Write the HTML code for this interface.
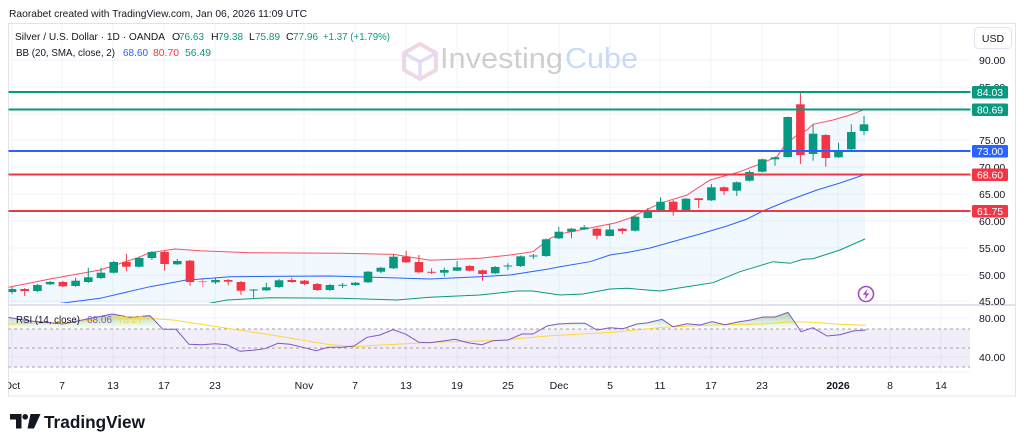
<!DOCTYPE html>
<html><head><meta charset="utf-8"><style>
html,body{margin:0;padding:0;background:#fff;}
svg{display:block;font-family:"Liberation Sans",sans-serif;}
.g{fill:#089981}.r{fill:#f23645}
.gw{stroke:#089981;stroke-width:1}.rw{stroke:#f23645;stroke-width:1}
.ax{font-size:10.5px;fill:#131722}
.tl{font-size:10.5px;fill:#131722;text-anchor:middle}
</style></head><body>
<svg width="1024" height="448" viewBox="0 0 1024 448" xmlns="http://www.w3.org/2000/svg">
<defs>
<clipPath id="mp"><rect x="8.5" y="23.5" width="962" height="279.5"/></clipPath>
<clipPath id="rp"><rect x="8.5" y="306" width="962" height="66"/></clipPath>
<clipPath id="tp"><rect x="8.5" y="372" width="962" height="24"/></clipPath>
<linearGradient id="ob" x1="0" y1="298" x2="0" y2="329" gradientUnits="userSpaceOnUse">
<stop offset="0" stop-color="#4caf50" stop-opacity="0.9"/><stop offset="1" stop-color="#4caf50" stop-opacity="0"/></linearGradient>
<clipPath id="above70"><rect x="8" y="290" width="962" height="39"/></clipPath>
</defs>
<rect width="1024" height="448" fill="#fff"/>
<text x="9" y="17" font-size="10.5" fill="#131722" textLength="298" lengthAdjust="spacingAndGlyphs">Raorabet created with TradingView.com, Jan 06, 2026 11:09 UTC</text>
<!-- frame -->
<rect x="8.5" y="23.5" width="1007" height="372.5" fill="none" stroke="#e0e3eb" stroke-width="1"/>
<!-- grid -->
<g stroke="#f0f3fa" stroke-width="1">
<line x1="8" y1="60" x2="970" y2="60"/><line x1="8" y1="87" x2="970" y2="87"/><line x1="8" y1="114" x2="970" y2="114"/><line x1="8" y1="140" x2="970" y2="140"/><line x1="8" y1="167" x2="970" y2="167"/><line x1="8" y1="194" x2="970" y2="194"/><line x1="8" y1="221" x2="970" y2="221"/><line x1="8" y1="248" x2="970" y2="248"/><line x1="8" y1="275" x2="970" y2="275"/><line x1="8" y1="301" x2="970" y2="301"/>
<line x1="8" y1="318" x2="970" y2="318"/><line x1="8" y1="357" x2="970" y2="357"/>
<line x1="12" y1="24" x2="12" y2="372"/><line x1="62" y1="24" x2="62" y2="372"/><line x1="113" y1="24" x2="113" y2="372"/><line x1="164" y1="24" x2="164" y2="372"/><line x1="215" y1="24" x2="215" y2="372"/><line x1="304" y1="24" x2="304" y2="372"/><line x1="355" y1="24" x2="355" y2="372"/><line x1="406" y1="24" x2="406" y2="372"/><line x1="457" y1="24" x2="457" y2="372"/><line x1="508" y1="24" x2="508" y2="372"/><line x1="559" y1="24" x2="559" y2="372"/><line x1="610" y1="24" x2="610" y2="372"/><line x1="660" y1="24" x2="660" y2="372"/><line x1="711" y1="24" x2="711" y2="372"/><line x1="762" y1="24" x2="762" y2="372"/><line x1="838" y1="24" x2="838" y2="372"/><line x1="890" y1="24" x2="890" y2="372"/><line x1="941" y1="24" x2="941" y2="372"/>
</g>
<!-- watermark -->
<g opacity="0.55">
<path d="M420 44 L436 53 L436 70 L420 79 L404 70 L404 53 Z" fill="none" stroke="#e3b9cf" stroke-width="4" stroke-linejoin="round"/>
<path d="M404 53 L420 62 L436 53 M420 62 L420 79" fill="none" stroke="#c9c3ec" stroke-width="3.5"/>
<text x="440" y="68" font-size="29" fill="#a8a8a8" textLength="123" lengthAdjust="spacingAndGlyphs">Investing</text>
<text x="565" y="68" font-size="29" fill="#9dbdf2" textLength="73" lengthAdjust="spacingAndGlyphs">Cube</text>
</g>
<!-- legend -->
<g font-size="10.5">
<text x="15" y="40" fill="#131722" textLength="150" lengthAdjust="spacingAndGlyphs">Silver / U.S. Dollar · 1D · OANDA</text>
<text x="172" y="40" fill="#131722">O</text><text x="179" y="40" fill="#089981" textLength="25" lengthAdjust="spacingAndGlyphs">76.63</text>
<text x="211" y="40" fill="#131722">H</text><text x="218" y="40" fill="#089981" textLength="25" lengthAdjust="spacingAndGlyphs">79.38</text>
<text x="249" y="40" fill="#131722">L</text><text x="255" y="40" fill="#089981" textLength="25" lengthAdjust="spacingAndGlyphs">75.89</text>
<text x="286" y="40" fill="#131722">C</text><text x="293" y="40" fill="#089981" textLength="25" lengthAdjust="spacingAndGlyphs">77.96</text>
<text x="323" y="40" fill="#089981" textLength="67" lengthAdjust="spacingAndGlyphs">+1.37 (+1.79%)</text>
<text x="16" y="56" fill="#131722" textLength="99" lengthAdjust="spacingAndGlyphs">BB (20, SMA, close, 2)</text>
<text x="123" y="56" fill="#2962ff" textLength="25" lengthAdjust="spacingAndGlyphs">68.60</text>
<text x="153" y="56" fill="#f23645" textLength="26" lengthAdjust="spacingAndGlyphs">80.70</text>
<text x="185" y="56" fill="#089981" textLength="26" lengthAdjust="spacingAndGlyphs">56.49</text>
</g>
<!-- main pane -->
<g clip-path="url(#mp)">
<polygon fill="#2196f3" fill-opacity="0.06" points="8,287.3 50,279 100,270 137,258 150,252.7 175,249 200,250.7 250,252.7 340,253.3 393,254.3 430,260.3 480,258.3 510,255 533,251.7 550,238.3 563,233.3 600,226 615,223 630,218 660,203.3 687,195 710,180 740,171.7 757,165 777,156.7 785,145 797,135 807,130 813,124.3 833,120 850,115 865,109.3 865,239 840,250 813,258.7 803,259.3 790,263.3 773,261.7 740,271.7 713,282.7 687,286.7 660,291 627,288.3 610,289 583,294 560,295 533,291 517,291 480,295 430,297.3 397,300 340,298.3 270,297.7 227,300 202,304.7 195,310 8,310"/>
<polyline fill="none" stroke="#f7525f" stroke-width="1" points="8,287.3 50,279 100,270 137,258 150,252.7 175,249 200,250.7 250,252.7 340,253.3 393,254.3 430,260.3 480,258.3 510,255 533,251.7 550,238.3 563,233.3 600,226 615,223 630,218 660,203.3 687,195 710,180 740,171.7 757,165 777,156.7 785,145 797,135 807,130 813,124.3 833,120 850,115 865,109.3"/>
<polyline fill="none" stroke="#2962ff" stroke-width="1" points="38,306 50,304.7 100,298.3 150,286.7 185,280.3 230,276.7 330,276 430,279 480,276.7 510,275 547,269.3 560,266.7 590,261.7 610,255 630,252 650,248 700,234 727,226 747,219 763,211 787,201 817,190 840,183 865,174.5"/>
<polyline fill="none" stroke="#089981" stroke-width="1" points="195,306 202,304.7 227,300 270,297.7 340,298.3 397,300 430,297.3 480,295 517,291 533,291 560,295 583,294 610,289 627,288.3 660,291 687,286.7 713,282.7 740,271.7 773,261.7 790,263.3 803,259.3 813,258.7 840,250 865,239"/>
<!-- candles -->
<g>
<line class="gw" x1="12.0" y1="287" x2="12.0" y2="294"/><rect class="g" x="7.7" y="289" width="8.6" height="3"/>
<line class="rw" x1="24.7" y1="288" x2="24.7" y2="296"/><rect class="r" x="20.4" y="289" width="8.6" height="2"/>
<line class="gw" x1="37.4" y1="284" x2="37.4" y2="292"/><rect class="g" x="33.1" y="285" width="8.6" height="6"/>
<line class="gw" x1="50.1" y1="281" x2="50.1" y2="285"/><rect class="g" x="45.8" y="282" width="8.6" height="2.3"/>
<line class="rw" x1="62.9" y1="281" x2="62.9" y2="287"/><rect class="r" x="58.6" y="282" width="8.6" height="4.3"/>
<line class="gw" x1="75.6" y1="277.7" x2="75.6" y2="287"/><rect class="g" x="71.3" y="280.7" width="8.6" height="5.3"/>
<line class="gw" x1="88.3" y1="267.7" x2="88.3" y2="283"/><rect class="g" x="84.0" y="277.3" width="8.6" height="4.7"/>
<line class="gw" x1="101.0" y1="268" x2="101.0" y2="279"/><rect class="g" x="96.7" y="272.7" width="8.6" height="5.3"/>
<line class="gw" x1="113.7" y1="261" x2="113.7" y2="273.5"/><rect class="g" x="109.4" y="262" width="8.6" height="10.7"/>
<line class="rw" x1="126.4" y1="254" x2="126.4" y2="271"/><rect class="r" x="122.1" y="262" width="8.6" height="4.7"/>
<line class="gw" x1="139.2" y1="257" x2="139.2" y2="267.5"/><rect class="g" x="134.9" y="258" width="8.6" height="8.7"/>
<line class="gw" x1="151.9" y1="251" x2="151.9" y2="260"/><rect class="g" x="147.6" y="252" width="8.6" height="6"/>
<line class="rw" x1="164.6" y1="251" x2="164.6" y2="270.7"/><rect class="r" x="160.3" y="252" width="8.6" height="12"/>
<line class="gw" x1="177.3" y1="259" x2="177.3" y2="265"/><rect class="g" x="173.0" y="261" width="8.6" height="3.3"/>
<line class="rw" x1="190.0" y1="260" x2="190.0" y2="285.7"/><rect class="r" x="185.7" y="260.7" width="8.6" height="21.3"/>
<line class="rw" x1="202.7" y1="278" x2="202.7" y2="287" stroke-opacity="0.6"/><rect class="r" x="198.4" y="281.2" width="8.6" height="1" fill-opacity="0.6"/>
<line class="gw" x1="215.5" y1="277.7" x2="215.5" y2="284"/><rect class="g" x="211.2" y="280" width="8.6" height="2.3"/>
<line class="rw" x1="228.2" y1="279" x2="228.2" y2="285.3"/><rect class="r" x="223.9" y="280" width="8.6" height="1.7"/>
<line class="rw" x1="240.9" y1="281" x2="240.9" y2="294.7"/><rect class="r" x="236.6" y="282" width="8.6" height="8.7"/>
<line class="gw" x1="253.6" y1="289" x2="253.6" y2="297.7"/><rect class="g" x="249.3" y="289.5" width="8.6" height="1"/>
<line class="gw" x1="266.3" y1="282.7" x2="266.3" y2="291"/><rect class="g" x="262.0" y="287.3" width="8.6" height="3"/>
<line class="gw" x1="279.0" y1="279" x2="279.0" y2="288"/><rect class="g" x="274.7" y="280.3" width="8.6" height="6.7"/>
<line class="rw" x1="291.8" y1="277.7" x2="291.8" y2="283"/><rect class="r" x="287.5" y="280" width="8.6" height="2"/>
<line class="rw" x1="304.5" y1="280" x2="304.5" y2="285"/><rect class="r" x="300.2" y="280.7" width="8.6" height="3.3"/>
<line class="rw" x1="317.2" y1="283" x2="317.2" y2="291"/><rect class="r" x="312.9" y="284" width="8.6" height="6"/>
<line class="gw" x1="329.9" y1="284" x2="329.9" y2="291"/><rect class="g" x="325.6" y="285" width="8.6" height="5"/>
<line class="gw" x1="342.6" y1="283" x2="342.6" y2="288"/><rect class="g" x="338.3" y="284.8" width="8.6" height="1"/>
<line class="gw" x1="355.3" y1="282" x2="355.3" y2="286"/><rect class="g" x="351.0" y="282.7" width="8.6" height="2.3"/>
<line class="gw" x1="368.0" y1="271" x2="368.0" y2="283"/><rect class="g" x="363.7" y="271.7" width="8.6" height="10.6"/>
<line class="gw" x1="380.8" y1="267" x2="380.8" y2="273"/><rect class="g" x="376.5" y="267.7" width="8.6" height="4"/>
<line class="gw" x1="393.5" y1="254.3" x2="393.5" y2="269"/><rect class="g" x="389.2" y="256.7" width="8.6" height="11.6"/>
<line class="rw" x1="406.2" y1="250.7" x2="406.2" y2="263"/><rect class="r" x="401.9" y="256.7" width="8.6" height="5.6"/>
<line class="rw" x1="418.9" y1="255" x2="418.9" y2="273.3"/><rect class="r" x="414.6" y="262" width="8.6" height="10.3"/>
<line class="rw" x1="431.6" y1="268.3" x2="431.6" y2="274"/><rect class="r" x="427.3" y="271.8" width="8.6" height="1"/>
<line class="gw" x1="444.3" y1="267.7" x2="444.3" y2="276.7"/><rect class="g" x="440.0" y="270" width="8.6" height="2.7"/>
<line class="gw" x1="457.1" y1="261.3" x2="457.1" y2="271"/><rect class="g" x="452.8" y="267.3" width="8.6" height="3.4"/>
<line class="rw" x1="469.8" y1="265" x2="469.8" y2="271.5"/><rect class="r" x="465.5" y="266" width="8.6" height="4.7"/>
<line class="rw" x1="482.5" y1="269.5" x2="482.5" y2="280.7"/><rect class="r" x="478.2" y="270.3" width="8.6" height="3.7"/>
<line class="gw" x1="495.2" y1="266" x2="495.2" y2="274"/><rect class="g" x="490.9" y="267" width="8.6" height="6.3"/>
<line class="gw" x1="507.9" y1="263.3" x2="507.9" y2="270"/><rect class="g" x="503.6" y="265.5" width="8.6" height="1"/>
<line class="gw" x1="520.6" y1="255.5" x2="520.6" y2="267"/><rect class="g" x="516.3" y="256.3" width="8.6" height="9.7"/>
<line class="gw" x1="533.4" y1="254" x2="533.4" y2="259"/><rect class="g" x="529.1" y="255.5" width="8.6" height="1"/>
<line class="gw" x1="546.1" y1="238.5" x2="546.1" y2="257"/><rect class="g" x="541.8" y="239.3" width="8.6" height="16.7"/>
<line class="gw" x1="558.8" y1="226.7" x2="558.8" y2="239"/><rect class="g" x="554.5" y="231.7" width="8.6" height="6.6"/>
<line class="gw" x1="571.5" y1="228" x2="571.5" y2="238.3"/><rect class="g" x="567.2" y="228.7" width="8.6" height="3"/>
<line class="gw" x1="584.2" y1="225" x2="584.2" y2="230"/><rect class="g" x="579.9" y="227.3" width="8.6" height="2"/>
<line class="rw" x1="596.9" y1="228" x2="596.9" y2="239.3"/><rect class="r" x="592.6" y="228.7" width="8.6" height="7"/>
<line class="gw" x1="609.7" y1="224" x2="609.7" y2="236.5"/><rect class="g" x="605.4" y="229.5" width="8.6" height="6.5"/>
<line class="rw" x1="622.4" y1="228" x2="622.4" y2="234"/><rect class="r" x="618.1" y="228.7" width="8.6" height="2.3"/>
<line class="gw" x1="635.1" y1="216" x2="635.1" y2="231.5"/><rect class="g" x="630.8" y="216.7" width="8.6" height="14"/>
<line class="gw" x1="647.8" y1="208" x2="647.8" y2="218.5"/><rect class="g" x="643.5" y="211" width="8.6" height="7"/>
<line class="gw" x1="660.5" y1="197.3" x2="660.5" y2="212"/><rect class="g" x="656.2" y="201.7" width="8.6" height="9.3"/>
<line class="rw" x1="673.2" y1="200" x2="673.2" y2="215.7"/><rect class="r" x="668.9" y="201.7" width="8.6" height="9.3"/>
<line class="gw" x1="686.0" y1="198" x2="686.0" y2="211"/><rect class="g" x="681.7" y="198.7" width="8.6" height="12"/>
<line class="rw" x1="698.7" y1="198" x2="698.7" y2="208.3"/><rect class="r" x="694.4" y="198.3" width="8.6" height="1.7"/>
<line class="gw" x1="711.4" y1="184" x2="711.4" y2="201"/><rect class="g" x="707.1" y="187.3" width="8.6" height="13"/>
<line class="rw" x1="724.1" y1="186.5" x2="724.1" y2="195"/><rect class="r" x="719.8" y="187.3" width="8.6" height="3.7"/>
<line class="gw" x1="736.8" y1="181.5" x2="736.8" y2="196"/><rect class="g" x="732.5" y="182.3" width="8.6" height="8.4"/>
<line class="gw" x1="749.5" y1="170.5" x2="749.5" y2="181.5"/><rect class="g" x="745.2" y="172" width="8.6" height="8.7"/>
<line class="gw" x1="762.2" y1="158.5" x2="762.2" y2="172.5"/><rect class="g" x="757.9" y="159.3" width="8.6" height="12.4"/>
<line class="gw" x1="775.0" y1="156.5" x2="775.0" y2="165.7"/><rect class="g" x="770.7" y="157.3" width="8.6" height="2"/>
<line class="gw" x1="787.7" y1="116.5" x2="787.7" y2="157.5"/><rect class="g" x="783.4" y="117" width="8.6" height="40"/>
<line class="rw" x1="800.4" y1="92.3" x2="800.4" y2="164"/><rect class="r" x="796.1" y="104.3" width="8.6" height="50.7"/>
<line class="gw" x1="813.1" y1="124.3" x2="813.1" y2="160.7"/><rect class="g" x="808.8" y="133.7" width="8.6" height="20.3"/>
<line class="rw" x1="825.8" y1="134" x2="825.8" y2="166.7"/><rect class="r" x="821.5" y="135" width="8.6" height="23"/>
<line class="gw" x1="838.5" y1="142.7" x2="838.5" y2="158"/><rect class="g" x="834.2" y="151.7" width="8.6" height="5.6"/>
<line class="gw" x1="851.3" y1="124.3" x2="851.3" y2="150"/><rect class="g" x="847.0" y="132" width="8.6" height="17.3"/>
<line class="gw" x1="864.0" y1="116" x2="864.0" y2="135"/><rect class="g" x="859.7" y="124.3" width="8.6" height="6.7"/>
</g>
<!-- level lines -->
<line x1="8" y1="92" x2="972" y2="92" stroke="#089981" stroke-width="2"/>
<line x1="8" y1="109.5" x2="972" y2="109.5" stroke="#089981" stroke-width="2"/>
<line x1="8" y1="151" x2="972" y2="151" stroke="#2962ff" stroke-width="2"/>
<line x1="8" y1="174.5" x2="972" y2="174.5" stroke="#f23645" stroke-width="2"/>
<line x1="8" y1="211" x2="972" y2="211" stroke="#f23645" stroke-width="2"/>
<!-- lightning -->
<circle cx="866" cy="294" r="7.5" fill="#fff" stroke="#a64ac9" stroke-width="1.6"/>
<path d="M867.5 288.5 L862.8 294.8 L865.8 294.8 L864.5 299.5 L869.2 293.2 L866.2 293.2 Z" fill="#a64ac9"/>
</g>
<!-- pane separator -->
<line x1="8" y1="305" x2="1016" y2="305" stroke="#e0e3eb" stroke-width="2"/>
<!-- RSI pane -->
<g clip-path="url(#rp)">
<rect x="8" y="329" width="962" height="38" fill="#7e57c2" fill-opacity="0.1"/>
<g stroke="#a0a0a8" stroke-width="1" stroke-dasharray="3,3">
<line x1="8" y1="329" x2="970" y2="329"/><line x1="8" y1="348" x2="970" y2="348"/><line x1="8" y1="367" x2="970" y2="367"/>
</g>
<polygon clip-path="url(#above70)" fill="url(#ob)" points="8,329 8,317.3 30,321 63,324 87,319 112,314 130,317.3 150,315.7 163,329.3 176,329.3 189,344.3 202,344.7 215,343.7 227,344.7 240,351.3 253,350.3 265,348.7 278,343.3 290,344.3 303,347.3 316,350.7 328,347.3 342,347.3 354,346 367,337.3 380,335 393,329.7 406,334.3 419,342.3 430,342.7 443,341 455,339.3 468,342.7 482,344.7 493,340.7 508,340 522,334 533,334 547,326 558,324 572,323.3 585,323.3 597,330 610,327.7 623,328.7 637,324 648,322.7 662,319.3 673,326.7 687,323.7 700,325 712,321.7 725,324.7 738,322 752,319.7 763,317 775,317 788,312.3 801,331.7 813,327.7 827,336 840,334.7 853,331 866,330 866,329"/>
<polyline fill="none" stroke="#fdd835" stroke-width="1" points="8,324.3 67,322.3 110,319 153,318.7 173,320 217,326.7 267,334.3 327,344.3 353,346.7 383,345 433,342.3 480,341 500,340.3 547,336 613,332.3 663,327.3 713,325 763,324 793,321.7 813,322.3 840,324.3 866,325.3"/>
<polyline fill="none" stroke="#7e57c2" stroke-width="1" points="8,317.3 30,321 63,324 87,319 112,314 130,317.3 150,315.7 163,329.3 176,329.3 189,344.3 202,344.7 215,343.7 227,344.7 240,351.3 253,350.3 265,348.7 278,343.3 290,344.3 303,347.3 316,350.7 328,347.3 342,347.3 354,346 367,337.3 380,335 393,329.7 406,334.3 419,342.3 430,342.7 443,341 455,339.3 468,342.7 482,344.7 493,340.7 508,340 522,334 533,334 547,326 558,324 572,323.3 585,323.3 597,330 610,327.7 623,328.7 637,324 648,322.7 662,319.3 673,326.7 687,323.7 700,325 712,321.7 725,324.7 738,322 752,319.7 763,317 775,317 788,312.3 801,331.7 813,327.7 827,336 840,334.7 853,331 866,330"/>
</g>
<g font-size="10.5">
<text x="16" y="323" fill="#131722" textLength="64" lengthAdjust="spacingAndGlyphs">RSI (14, close)</text>
<text x="87" y="323" fill="#7e57c2" textLength="25" lengthAdjust="spacingAndGlyphs">68.06</text>
<text x="118" y="323" fill="#fdd835" textLength="25" lengthAdjust="spacingAndGlyphs">73.27</text>
</g>
<line x1="8" y1="372" x2="970" y2="372" stroke="#f0f3fa" stroke-width="1"/>
<!-- price axis -->
<rect x="974.5" y="27.5" width="37" height="21" rx="4" fill="#fff" stroke="#e0e3eb"/>
<text x="993" y="42" font-size="10.5" fill="#131722" text-anchor="middle">USD</text>
<g class="ax">
<text x="979" y="64">90.00</text>
<text x="979" y="91">85.00</text>
<text x="979" y="144">75.00</text>
<text x="979" y="171">70.00</text>
<text x="979" y="198">65.00</text>
<text x="979" y="225">60.00</text>
<text x="979" y="252">55.00</text>
<text x="979" y="279">50.00</text>
<text x="979" y="305">45.00</text>
<text x="979" y="322">80.00</text>
<text x="979" y="361">40.00</text>
</g>
<g font-size="10.5" fill="#fff" text-anchor="middle">
<rect x="972" y="86" width="36" height="12.5" rx="1.5" fill="#089981"/><text x="990" y="96">84.03</text>
<rect x="972" y="103.5" width="36" height="12.5" rx="1.5" fill="#089981"/><text x="990" y="113.5">80.69</text>
<rect x="972" y="145" width="36" height="12.5" rx="1.5" fill="#2962ff"/><text x="990" y="155">73.00</text>
<rect x="972" y="168.5" width="36" height="12.5" rx="1.5" fill="#f23645"/><text x="990" y="178.5">68.60</text>
<rect x="972" y="205" width="36" height="12.5" rx="1.5" fill="#f23645"/><text x="990" y="215">61.75</text>
</g>
<!-- time axis -->
<g clip-path="url(#tp)">
<g class="tl">
<text x="12" y="389">Oct</text><text x="62" y="389">7</text><text x="113" y="389">13</text><text x="164" y="389">17</text><text x="215" y="389">23</text>
<text x="304" y="389">Nov</text><text x="355" y="389">7</text><text x="406" y="389">13</text><text x="457" y="389">19</text><text x="508" y="389">25</text>
<text x="559" y="389">Dec</text><text x="610" y="389">5</text><text x="660" y="389">11</text><text x="711" y="389">17</text><text x="762" y="389">23</text>
<text x="838" y="389" font-weight="bold">2026</text><text x="890" y="389">8</text><text x="941" y="389">14</text>
</g>
</g>
<!-- TradingView logo -->
<g fill="#131722">
<path d="M10 414 H21.5 V428.5 H16 V419.5 H10 Z"/>
<circle cx="25.2" cy="416.8" r="2.8"/>
<path d="M30.5 414 H40.5 L34 428.5 H27.5 Z"/>
<text x="44" y="428" font-size="17.5" font-weight="bold" textLength="101" lengthAdjust="spacingAndGlyphs">TradingView</text>
</g>
</svg>
</body></html>
